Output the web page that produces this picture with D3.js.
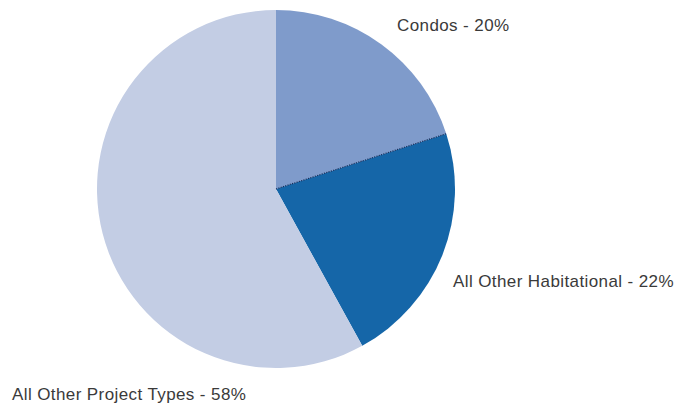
<!DOCTYPE html>
<html>
<head>
<meta charset="utf-8">
<script src="https://cdn.jsdelivr.net/npm/d3@7"></script>
<style>
  body { margin: 0; background: #fff; }
  svg { display: block; }
</style>
</head>
<body>
<svg></svg>
<script>
const width = 692;
const height = 404;

// slice data, clockwise from 12 o'clock
const categories = ["Condos", "All Other Habitational", "All Other Project Types"];
const shares = [20, 22, 58];
const colors = ["#7f9bcb", "#1566a8", "#c3cde4"];
const labelText = ["Condos - 20%", "All Other Habitational - 22%", "All Other Project Types - 58%"];

const cx = 276, cy = 189, r = 179;

const svg = d3.select("svg")
  .attr("width", width)
  .attr("height", height)
  .attr("viewBox", [0, 0, width, height]);

const pie = d3.pie().sort(null).value(d => d);
const arcs = pie(shares);
const arc = d3.arc().innerRadius(0).outerRadius(r);

const g = svg.append("g").attr("transform", `translate(${cx},${cy})`);

g.selectAll("path")
  .data(arcs)
  .join("path")
  .attr("d", arc)
  .attr("fill", (d, i) => colors[i]);

// dotted edge between condos and habitational
const a = arcs[1].startAngle;
g.append("line")
  .attr("x1", 0).attr("y1", 0)
  .attr("x2", Math.sin(a) * r).attr("y2", -Math.cos(a) * r)
  .attr("stroke", "#1b2f5e")
  .attr("stroke-width", 1.2)
  .attr("stroke-dasharray", "1.2,1.2");

// labels
const labelPos = [[397, 31], [453, 287], [12, 400]];
svg.selectAll("text.lbl")
  .data(labelText)
  .join("text")
  .attr("class", "lbl")
  .attr("x", (d, i) => labelPos[i][0])
  .attr("y", (d, i) => labelPos[i][1])
  .attr("font-family", "Liberation Sans, Arial, sans-serif")
  .attr("font-size", 17)
  .attr("letter-spacing", 0.4)
  .attr("fill", "#3a3a3a")
  .text(d => d);
</script>
</body>
</html>
